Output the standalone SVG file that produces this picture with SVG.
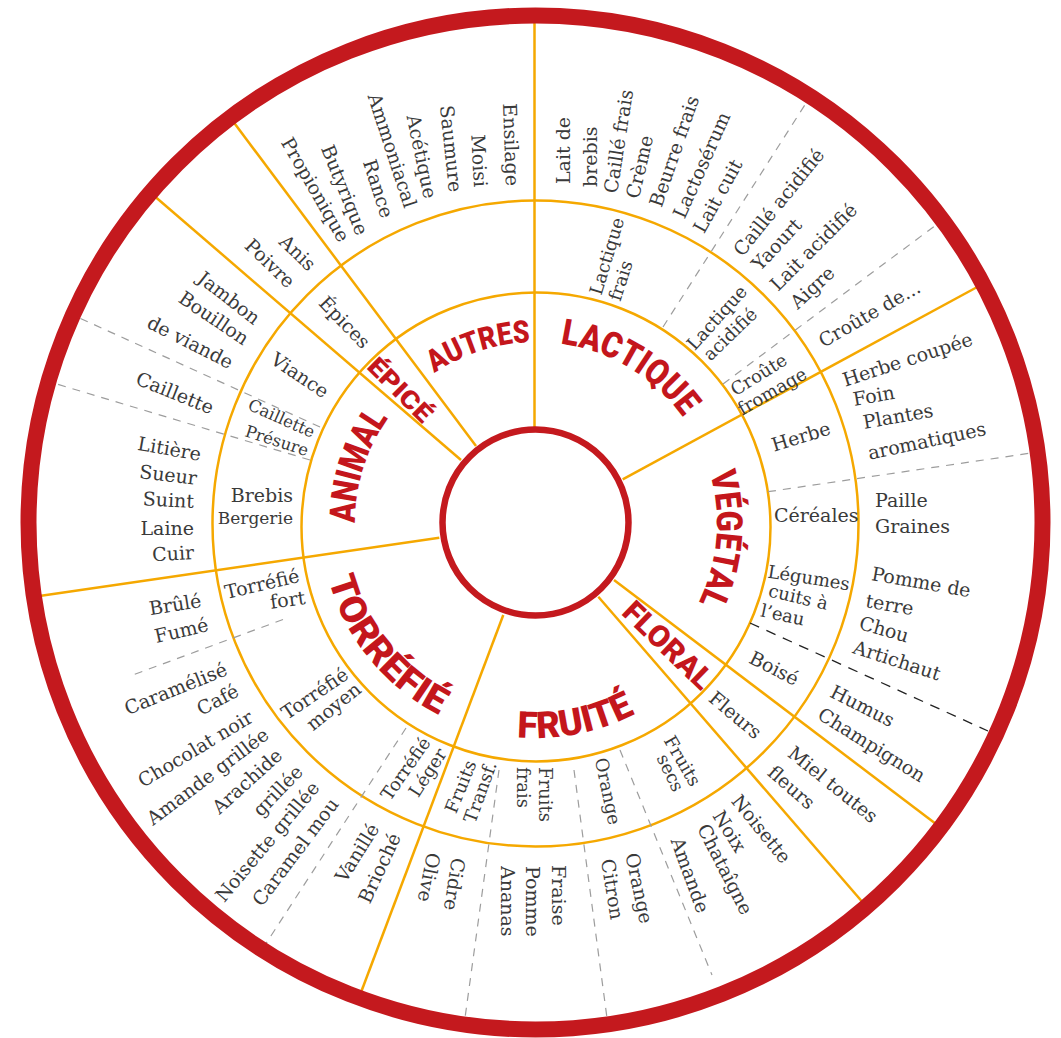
<svg xmlns="http://www.w3.org/2000/svg" width="1061" height="1038" viewBox="0 0 1061 1038">
<defs>
<style>
.o{stroke:#f5a800;stroke-width:2.5;fill:none}
.d{stroke:#9d9d9d;stroke-width:1.2;stroke-dasharray:8 7;fill:none}
.k{stroke:#222;stroke-width:1.3;stroke-dasharray:10 8;fill:none}
.t{font-family:"DejaVu Serif",serif;font-size:19px;fill:#3a3a3a;dominant-baseline:central}
.s{font-size:18px}
.xs{font-size:16.5px}
.e{text-anchor:end}
.c{font-family:Roboto,"DejaVu Sans",sans-serif;font-weight:900;fill:#c4161c;text-anchor:middle}
</style>
<path id="pAutres" d="M355.1,516.7 A181,181 0 0 1 678.6,411.6"/>
<path id="pLactique" d="M422.1,382.3 A181,181 0 0 1 713.7,557.5"/>
<path id="pAnimal" d="M425.3,666.2 A181,181 0 0 1 528.7,342.1"/>
<path id="pVegetal" d="M612.5,359 A181,181 0 0 1 582.8,697.8"/>
<path id="pTorrefie" d="M351.3,412.9 A215,215 0 0 0 606.7,726"/>
<path id="pFruite" d="M352.1,634.4 A215,215 0 0 0 748.5,555.9"/>
</defs>
<rect width="1061" height="1038" fill="#fff"/>

<g id="connectors">
<circle class="o" cx="536" cy="527" r="234.5"/>
<circle class="o" cx="535.5" cy="523.5" r="323"/>
<line class="o" x1="534.5" y1="20" x2="534.5" y2="430"/>
<line class="o" x1="622.7" y1="479.3" x2="980" y2="285.5"/>
<line class="o" x1="614" y1="580" x2="938" y2="825.5"/>
<line class="o" x1="598.3" y1="596.7" x2="865" y2="905"/>
<line class="o" x1="503.3" y1="615" x2="360" y2="995"/>
<line class="o" x1="439.3" y1="537.7" x2="36" y2="596.5"/>
<line class="o" x1="461" y1="460" x2="152" y2="194"/>
<line class="o" x1="476" y1="446" x2="232" y2="120"/>
<line class="d" x1="663" y1="327" x2="808" y2="100"/>
<line class="d" x1="723" y1="384" x2="940" y2="222"/>
<line class="d" x1="768" y1="491.7" x2="1034" y2="452.6"/>
<line class="k" x1="750" y1="623" x2="988" y2="731"/>
<line class="d" x1="574" y1="770" x2="607" y2="1018"/>
<line class="d" x1="499" y1="770" x2="465" y2="1018"/>
<line class="d" x1="620" y1="750" x2="712" y2="975"/>
<line class="d" x1="406" y1="728" x2="265" y2="945"/>
<line class="d" x1="283" y1="619.5" x2="130" y2="676"/>
<line class="d" x1="310" y1="460" x2="50" y2="382"/>
<line class="d" x1="320" y1="427" x2="75" y2="316"/>
</g>

<circle cx="535.5" cy="522.5" r="507" fill="none" stroke="#c4191e" stroke-width="16"/>
<circle cx="535.5" cy="522.5" r="93" fill="#fff" stroke="#c4191e" stroke-width="6.5"/>

<g id="autres">
<text class="c" font-size="31"><textPath href="#pAutres" startOffset="50%" textLength="102" lengthAdjust="spacingAndGlyphs">AUTRES</textPath></text>
<text class="t e" transform="translate(513,186) rotate(88)">Ensilage</text>
<text class="t e" transform="translate(481,187) rotate(87)">Moisi</text>
<text class="t e" transform="translate(456,192) rotate(84)">Saumure</text>
<text class="t e" transform="translate(431,198) rotate(78)">Acétique</text>
<text class="t e" transform="translate(411,207) rotate(72)">Ammoniacal</text>
<text class="t e" transform="translate(388,217) rotate(72)">Rance</text>
<text class="t e" transform="translate(363,234) rotate(68)">Butyrique</text>
<text class="t e" transform="translate(345,240) rotate(60)">Propionique</text>
</g>

<g id="lactique">
<text class="c" font-size="36"><textPath href="#pLactique" startOffset="50%" textLength="147" lengthAdjust="spacingAndGlyphs">LACTIQUE</textPath></text>
<text class="t s" transform="translate(595,294) rotate(-73)">Lactique</text>
<text class="t s" transform="translate(614,300) rotate(-72)">frais</text>
<text class="t s" transform="translate(690,347) rotate(-48)">Lactique</text>
<text class="t s" transform="translate(706,357) rotate(-44)">acidifié</text>
<text class="t s" transform="translate(732,391) rotate(-32)">Croûte</text>
<text class="t s" transform="translate(739,410) rotate(-30)">fromage</text>
<text class="t" transform="translate(562.5,184) rotate(-90)">Lait de</text>
<text class="t" transform="translate(590,187) rotate(-90)">brebis</text>
<text class="t" transform="translate(610,193) rotate(-81)">Caillé frais</text>
<text class="t" transform="translate(632,198) rotate(-77)">Crème</text>
<text class="t" transform="translate(655,206) rotate(-71)">Beurre frais</text>
<text class="t" transform="translate(678,217) rotate(-66)">Lactosérum</text>
<text class="t" transform="translate(698,231) rotate(-61)">Lait cuit</text>
<text class="t" transform="translate(737,253) rotate(-51)">Caillé acidifié</text>
<text class="t" transform="translate(755,267) rotate(-47)">Yaourt</text>
<text class="t" transform="translate(773,287) rotate(-45)">Lait acidifié</text>
<text class="t" transform="translate(793,305) rotate(-43)">Aigre</text>
<text class="t" transform="translate(820,342) rotate(-30)">Croûte de...</text>
</g>

<g id="vegetal">
<text class="c" font-size="36"><textPath href="#pVegetal" startOffset="50%" textLength="132" lengthAdjust="spacingAndGlyphs">VÉGÉTAL</textPath></text>
<text class="t" transform="translate(772,445) rotate(-17)">Herbe</text>
<text class="t" transform="translate(774,515)">Céréales</text>
<text class="t s" transform="translate(768,571) rotate(9)">Légumes</text>
<text class="t s" transform="translate(769,590) rotate(13)">cuits à</text>
<text class="t s" transform="translate(761,610) rotate(12)">l’eau</text>
<text class="t" transform="translate(751,656) rotate(27)">Boisé</text>
<text class="t" transform="translate(843,380) rotate(-18)">Herbe coupée</text>
<text class="t" transform="translate(853,399) rotate(-10)">Foin</text>
<text class="t" transform="translate(863,422) rotate(-10)">Plantes</text>
<text class="t" transform="translate(868,453) rotate(-12)">aromatiques</text>
<text class="t" transform="translate(875,500)">Paille</text>
<text class="t" transform="translate(875,526)">Graines</text>
<text class="t" transform="translate(872,573) rotate(10)">Pomme de</text>
<text class="t" transform="translate(866,600) rotate(10)">terre</text>
<text class="t" transform="translate(860,622) rotate(16)">Chou</text>
<text class="t" transform="translate(854,646) rotate(18)">Artichaut</text>
<text class="t" transform="translate(832,690) rotate(27)">Humus</text>
<text class="t" transform="translate(820,712) rotate(32)">Champignon</text>
</g>

<g id="floral">
<text class="c" font-size="30" textLength="112" lengthAdjust="spacingAndGlyphs" dominant-baseline="central" transform="translate(668,645) rotate(44)">FLORAL</text>
<text class="t" transform="translate(712,695) rotate(40)">Fleurs</text>
<text class="t" transform="translate(791,750) rotate(39)">Miel toutes</text>
<text class="t" transform="translate(771,769) rotate(41)">fleurs</text>
</g>

<g id="fruite">
<text class="c" font-size="37"><textPath href="#pFruite" startOffset="50%" textLength="122" lengthAdjust="spacingAndGlyphs">FRUITÉ</textPath></text>
<text class="t s" transform="translate(669,737) rotate(60)">Fruits</text>
<text class="t s" transform="translate(662,755) rotate(64)">secs</text>
<text class="t s" transform="translate(601,758) rotate(78)">Orange</text>
<text class="t s" transform="translate(545,767) rotate(90)">Fruits</text>
<text class="t s" transform="translate(523,767) rotate(90)">frais</text>
<text class="t s" transform="translate(450,812) rotate(-68)">Fruits</text>
<text class="t s" transform="translate(469,822) rotate(-70)">Transf.</text>
<text class="t" transform="translate(736,797) rotate(51)">Noisette</text>
<text class="t" transform="translate(718,812) rotate(58)">Noix</text>
<text class="t" transform="translate(703,825) rotate(63)">Chataîgne</text>
<text class="t" transform="translate(677,838) rotate(70)">Amande</text>
<text class="t" transform="translate(632,853) rotate(78)">Orange</text>
<text class="t" transform="translate(608,859) rotate(81)">Citron</text>
<text class="t" transform="translate(559,865) rotate(90)">Fraise</text>
<text class="t" transform="translate(533,866) rotate(90)">Pomme</text>
<text class="t" transform="translate(508,866) rotate(90)">Ananas</text>
<text class="t" transform="translate(459,858) rotate(99)">Cidre</text>
<text class="t" transform="translate(434,853) rotate(101)">Olive</text>
</g>

<g id="torrefie">
<text class="c" font-size="37"><textPath href="#pTorrefie" startOffset="50%" textLength="180" lengthAdjust="spacingAndGlyphs">TORRÉFIÉ</textPath></text>
<text class="t s e" transform="translate(426,739) rotate(-55)">Torréfié</text>
<text class="t s e" transform="translate(442,750) rotate(-57)">Léger</text>
<text class="t e" transform="translate(346,672) rotate(-34)">Torréfié</text>
<text class="t e" transform="translate(358,686) rotate(-39)">moyen</text>
<text class="t e" transform="translate(299,575) rotate(-13)">Torréfié</text>
<text class="t e" transform="translate(305,597) rotate(-8)">fort</text>
<text class="t e" transform="translate(374,825) rotate(-58)">Vanillé</text>
<text class="t e" transform="translate(395,834) rotate(-65)">Brioché</text>
<text class="t e" transform="translate(226,668) rotate(-22)">Caramélisé</text>
<text class="t e" transform="translate(237,689) rotate(-28)">Café</text>
<text class="t e" transform="translate(251,715) rotate(-31)">Chocolat noir</text>
<text class="t e" transform="translate(266,732) rotate(-37)">Amande grillée</text>
<text class="t e" transform="translate(279,752) rotate(-42)">Arachide</text>
<text class="t e" transform="translate(299,768) rotate(-46)">grillée</text>
<text class="t e" transform="translate(315,784) rotate(-50)">Noisette grillée</text>
<text class="t e" transform="translate(334,800) rotate(-53)">Caramel mou</text>
<text class="t e" transform="translate(201,600) rotate(-9)">Brûlé</text>
<text class="t e" transform="translate(208,624) rotate(-13)">Fumé</text>
</g>

<g id="animal">
<text class="c" font-size="36"><textPath href="#pAnimal" startOffset="50%" textLength="112" lengthAdjust="spacingAndGlyphs">ANIMAL</textPath></text>
<text class="t e" transform="translate(327,393) rotate(34)">Viance</text>
<text class="t xs e" transform="translate(314,433) rotate(24)">Caillette</text>
<text class="t xs e" transform="translate(308,451) rotate(18)">Présure</text>
<text class="t e" transform="translate(293,495)">Brebis</text>
<text class="t e" style="font-size:17px" transform="translate(293,518)">Bergerie</text>
<text class="t e" transform="translate(258,320) rotate(38)">Jambon</text>
<text class="t e" transform="translate(247,340) rotate(34)">Bouillon</text>
<text class="t e" transform="translate(232,363) rotate(27)">de viande</text>
<text class="t e" transform="translate(213,408) rotate(22)">Caillette</text>
<text class="t e" transform="translate(201,454) rotate(10)">Litière</text>
<text class="t e" transform="translate(197,478) rotate(7)">Sueur</text>
<text class="t e" transform="translate(194,501) rotate(3)">Suint</text>
<text class="t e" transform="translate(194,528)">Laine</text>
<text class="t e" transform="translate(194,552) rotate(-3)">Cuir</text>
</g>

<g id="epice">
<text class="c" font-size="25" textLength="80" lengthAdjust="spacingAndGlyphs" dominant-baseline="central" transform="translate(400,390) rotate(45)">ÉPICÉ</text>
<text class="t e" transform="translate(367,345) rotate(46)">Épices</text>
<text class="t e" transform="translate(313,267) rotate(44)">Anis</text>
<text class="t e" transform="translate(292,284) rotate(44)">Poivre</text>
</g>
</svg>
